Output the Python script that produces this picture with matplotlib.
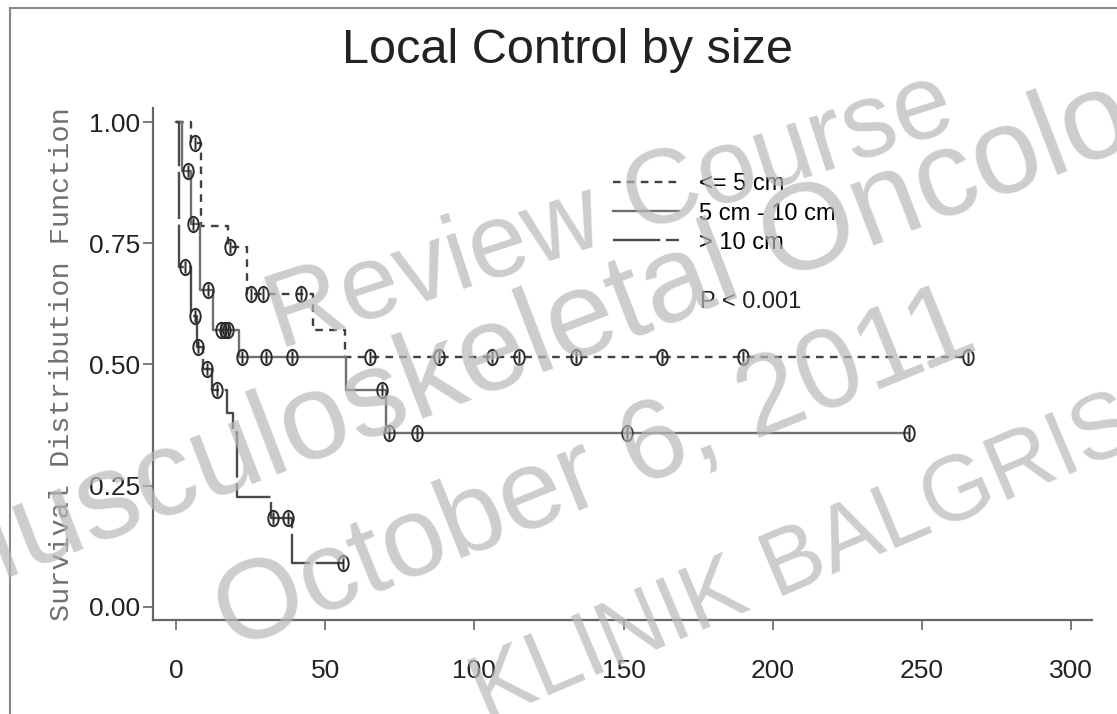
import numpy as np
import matplotlib
matplotlib.use("Agg")
import matplotlib.pyplot as plt
from matplotlib.path import Path
from matplotlib.lines import Line2D

plt.rcParams['lines.scale_dashes'] = False

# Kaplan-Meier steps: time of each step and survival after it
le5_t = [0, 5, 8.5, 17.4, 23.7, 46, 56.5, 265.5]
le5_s = [1.0, 0.957, 0.785, 0.742, 0.645, 0.572, 0.515, 0.515]
le5_cens = [6.5, 18, 25, 29, 42, 65, 88, 106, 115, 134, 163, 190, 265.5]

mid_t = [0, 2, 5, 8, 12.5, 21, 57, 70.5, 245.5]
mid_s = [1.0, 0.90, 0.79, 0.653, 0.571, 0.515, 0.447, 0.358, 0.358]
mid_cens = [4, 5.7, 10.7, 15, 16.4, 17.5, 22, 30, 39, 69, 71.5, 80.6, 151, 245.5]

big_t = [0, 1, 5, 7, 9, 12, 17, 19, 20.5, 32, 39, 56]
big_s = [1.0, 0.70, 0.60, 0.536, 0.49, 0.447, 0.40, 0.36, 0.227, 0.183, 0.09, 0.09]
big_cens = [3, 6.4, 7.4, 10.4, 13.7, 32.5, 37.4, 56]

labels = ['<= 5 cm', '5 cm - 10 cm', '> 10 cm']
xticks = [0, 50, 100, 150, 200, 250, 300]
yticks = [0.0, 0.25, 0.50, 0.75, 1.0]


def surv_at(ts, ss, t):
    idx = np.searchsorted(ts, t, side='right') - 1
    return np.asarray(ss)[idx]


# censor mark: narrow ellipse with a bar through it
circ = Path.unit_circle()
ell = Path(circ.vertices * [0.68, 1.0], circ.codes)
bar = Path([[0, -0.8], [0, 0.8]], [Path.MOVETO, Path.LINETO])
cens_mark = Path.make_compound_path(ell, bar)

fig = plt.figure(figsize=(11.17, 7.14), dpi=100)
ax = fig.add_axes([0.137, 0.1317, 0.8407, 0.7171])

curves = [
    (le5_t, le5_s, le5_cens, (0, (5.5, 4.5)), '#404040'),
    (mid_t, mid_s, mid_cens, '-', '#707070'),
    (big_t, big_s, big_cens, (0, (34, 4)), '#4a4a4a'),
]
handles = []
for (ts, ss, cs, ls, col), lab in zip(curves, labels):
    ln, = ax.step(ts, ss, where='post', color=col, lw=1.7, ls=ls, label=lab)
    handles.append(ln)
    ax.plot(cs, surv_at(ts, ss, cs), ls='none', marker=cens_mark, ms=11,
            mfc='none', mec='#2a2a2a', mew=1.4)

ax.set_xlim(-7.7, 307)
ax.set_ylim(-0.027, 1.029)
ax.set_xticks(xticks)
ax.set_yticks(yticks)
ax.set_yticklabels(['%.2f' % v for v in yticks])
for s in ['top', 'right']:
    ax.spines[s].set_visible(False)
for s in ['left', 'bottom']:
    ax.spines[s].set_color('#666666')
    ax.spines[s].set_linewidth(1.6)
ax.tick_params(axis='both', direction='out', length=7, width=1.2, color='#666666',
               labelsize=19, labelcolor='#222222')
ax.tick_params(axis='x', pad=21)
ax.tick_params(axis='y', pad=2)
for t in ax.get_xticklabels() + ax.get_yticklabels():
    t.set_family(['Liberation Sans', 'DejaVu Sans'])

ax.set_ylabel('Survival Distribution Function', family=['Liberation Mono', 'DejaVu Sans Mono'],
              fontsize=20.5, color='#707070', va='center')
ax.yaxis.set_label_coords(-0.097, 0.5)

leg = ax.legend(handles=handles, loc='upper left', bbox_to_anchor=(0.49, 0.872),
                frameon=False, handlelength=2.8, handletextpad=0.85,
                labelspacing=0.3, borderpad=0, borderaxespad=0,
                prop={'family': ['Liberation Sans', 'DejaVu Sans'], 'size': 17})
ax.text(0.5825, 0.621, 'P < 0.001', transform=ax.transAxes, fontsize=17, va='center',
        family=['Liberation Sans', 'DejaVu Sans'], color='#222222')

fig.text(567 / 1117, 1 - 63 / 714, 'Local Control by size', ha='center', va='baseline',
         fontsize=35, family=['Liberation Sans Narrow', 'Liberation Sans', 'DejaVu Sans'],
         color='#222222')

# watermark
wm = dict(ha='center', va='center', rotation_mode='anchor', color=(0.72, 0.72, 0.72),
          alpha=0.7, family=['Liberation Sans', 'DejaVu Sans'], zorder=10)
fig.text(610 / 1117, 1 - 212 / 714, 'Review Course', fontsize=76, rotation=18, **wm)
fig.text(585 / 1117, 1 - 322 / 714, 'Musculoskeletal Oncology', fontsize=88, rotation=21, **wm)
fig.text(595 / 1117, 1 - 472 / 714, 'October 6, 2011', fontsize=82, rotation=22, **wm)
fig.text(830 / 1117, 1 - 550 / 714, 'KLINIK BALGRIST', fontsize=66, rotation=23, **wm)

# outer frame lines
fig.add_artist(Line2D([0.009, 0.009], [0, 0.989], transform=fig.transFigure,
                      color='#888888', lw=1.5))
fig.add_artist(Line2D([0.009, 1], [0.989, 0.989], transform=fig.transFigure,
                      color='#888888', lw=1.5))

fig.savefig('out.png', dpi=100)
